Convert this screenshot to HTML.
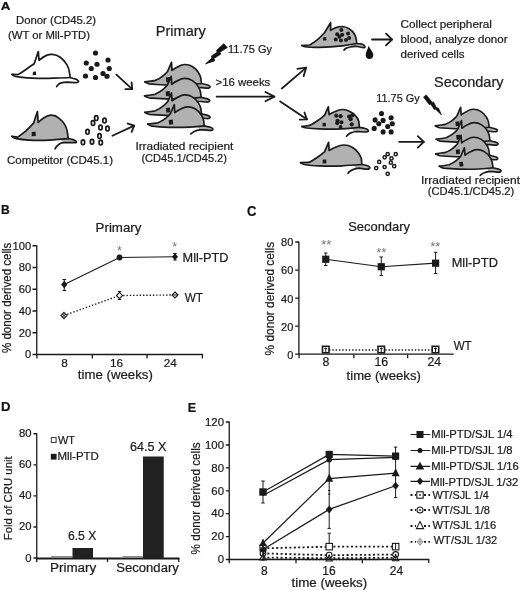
<!DOCTYPE html>
<html>
<head>
<meta charset="utf-8">
<title>Figure</title>
<style>
html,body{margin:0;padding:0;background:#fff;}
body{width:520px;height:590px;overflow:hidden;font-family:"Liberation Sans",sans-serif;}
svg{display:block;filter:grayscale(1);}
text{font-family:"Liberation Sans",sans-serif;fill:#1c1c1c;stroke:#1c1c1c;stroke-width:0.22;}
.b{font-weight:bold;fill:#111;}
.ln{stroke:#1a1a1a;stroke-width:1.8;fill:none;stroke-linecap:round;stroke-linejoin:round;}
.mo{fill:none;stroke:#1a1a1a;stroke-width:1.7;stroke-linecap:round;stroke-linejoin:round;}
.ax{stroke:#1a1a1a;stroke-width:1.3;fill:none;}
.dl{stroke:#1a1a1a;stroke-width:1.2;fill:none;}
.dot{stroke:#1a1a1a;stroke-width:1.4;fill:none;stroke-dasharray:1.4 1.9;}
.dotk{stroke:#1a1a1a;stroke-width:1.8;fill:none;stroke-dasharray:2 2.4;}
.eb{stroke:#1a1a1a;stroke-width:1;fill:none;}
.mk{fill:#1a1a1a;stroke:none;}
.om{fill:#fff;stroke:#1a1a1a;stroke-width:1.1;}
.on{fill:none;stroke:#1a1a1a;stroke-width:1.1;}
.st{fill:#777;stroke:none;}
</style>
</head>
<body>
<svg width="520" height="590" viewBox="0 0 520 590">
<defs>
  <marker id="ah" markerUnits="userSpaceOnUse" markerWidth="24" markerHeight="24" refX="0" refY="0" orient="auto" viewBox="-12 -12 24 24" overflow="visible">
    <path d="M-7.5,-4.8 L0,0 L-7.5,4.8" fill="none" stroke="#1a1a1a" stroke-width="1.8" stroke-linecap="round" stroke-linejoin="round"/>
  </marker>
  <marker id="ah3" markerUnits="userSpaceOnUse" markerWidth="24" markerHeight="24" refX="0" refY="0" orient="auto" viewBox="-12 -12 24 24" overflow="visible">
    <path d="M-6,-5.8 L0,0 L-6,5.8" fill="none" stroke="#1a1a1a" stroke-width="1.8" stroke-linecap="round" stroke-linejoin="round"/>
  </marker>
  <marker id="ah4" markerUnits="userSpaceOnUse" markerWidth="24" markerHeight="24" refX="0" refY="0" orient="auto" viewBox="-12 -12 24 24" overflow="visible">
    <path d="M-9,-4.6 L0,0 L-9,4.6" fill="none" stroke="#1a1a1a" stroke-width="1.8" stroke-linecap="round" stroke-linejoin="round"/>
  </marker>
  <marker id="ah5" markerUnits="userSpaceOnUse" markerWidth="24" markerHeight="24" refX="0" refY="0" orient="auto" viewBox="-12 -12 24 24" overflow="visible">
    <path d="M-5.8,-4.3 L0,0 L-5.8,4.3" fill="none" stroke="#1a1a1a" stroke-width="1.8" stroke-linecap="round" stroke-linejoin="round"/>
  </marker>
  <marker id="ah2" markerUnits="userSpaceOnUse" markerWidth="24" markerHeight="24" refX="0" refY="0" orient="auto" viewBox="-12 -12 24 24" overflow="visible">
    <path d="M-5,-4.6 L0,0 L-5,4.6" fill="none" stroke="#1a1a1a" stroke-width="1.8" stroke-linecap="round" stroke-linejoin="round"/>
  </marker>
  <!-- stacked mouse: nose at 0,0 facing left -->
  <g id="smouse">
    <path fill="#b0b1b4" d="M0,0 L6,-0.8 C8,-1 9.5,-1.2 10.5,-1.5 C13.5,-2.8 16,-4.3 18.2,-6.1 C20,-7.5 21.5,-9 22.8,-10.7 L26.6,-19.5 L27.1,-11.5 C29,-13 31.3,-14.4 33.6,-15.4 C35.5,-16.5 37.6,-17.3 39.7,-17.4 C42.5,-17.5 45.2,-16.8 47.4,-15.4 C50,-13.8 52.2,-11.7 53.6,-9.2 C54.7,-7.5 55.5,-5.7 55.9,-3.8 L56.6,1.6 C58.7,2 60.8,2.5 62.8,3.1 C64,3.5 64.9,4 65.1,4.6 C65.3,5.4 64.7,6 63.6,6.2 C62,6.4 59,5.9 56.6,5.7 L52,5.7 L50,2.4 C39,3.4 24,3.4 12,2.6 C9.4,2.5 6.8,2.4 4.3,2 C2.7,1.6 1.3,1 0,0 Z"/>
    <path class="mo" d="M0,0 L6,-0.8 C8,-1 9.5,-1.2 10.5,-1.5 C13.5,-2.8 16,-4.3 18.2,-6.1 C20,-7.5 21.5,-9 22.8,-10.7 L26.6,-19.5 L27.1,-11.5 C29,-13 31.3,-14.4 33.6,-15.4 C35.5,-16.5 37.6,-17.3 39.7,-17.4 C42.5,-17.5 45.2,-16.8 47.4,-15.4 C50,-13.8 52.2,-11.7 53.6,-9.2 C54.7,-7.5 55.5,-5.7 55.9,-3.8 L56.6,1.6 C58.7,2 60.8,2.5 62.8,3.1 C64,3.5 64.9,4 65.1,4.6 C65.3,5.4 64.7,6 63.6,6.2 C62,6.4 59,5.9 56.6,5.7 L52,5.7 C50,5.9 48.3,6.5 46.5,7.3 C45.3,8 44.2,8.8 43.2,9.7"/>
    <path class="mo" d="M0,0 C1.3,1 2.7,1.6 4.3,2 C6.8,2.4 9.4,2.5 12,2.6 C18,3 24,3.2 30,3.2 C39,3.2 48,2.5 56.6,1.6"/>
    <path fill="#1a1a1a" d="M21,-4.3 L25,-4.8 L25.5,0 L21.5,0.5 Z"/>
  </g>
</defs>
<rect width="520" height="590" fill="#fff"/>

<!-- ================= PANEL A ================= -->
<g id="panelA">
<text class="b" x="0.8" y="10" font-size="10.8" textLength="9.7" lengthAdjust="spacingAndGlyphs">A</text>
<text x="16" y="23.9" font-size="10.8" textLength="80" lengthAdjust="spacingAndGlyphs">Donor (CD45.2)</text>
<text x="8" y="38.5" font-size="10.8" textLength="82" lengthAdjust="spacingAndGlyphs">(WT or Mll-PTD)</text>
<text x="7" y="163.5" font-size="10.8" textLength="106" lengthAdjust="spacingAndGlyphs">Competitor (CD45.1)</text>
<text x="155.7" y="35.6" font-size="14.6" textLength="50.2" lengthAdjust="spacingAndGlyphs">Primary</text>
<text x="228" y="53" font-size="11.3" textLength="44" lengthAdjust="spacingAndGlyphs">11.75 Gy</text>
<text x="215.5" y="85.5" font-size="11.3" textLength="54.8" lengthAdjust="spacingAndGlyphs">&gt;16 weeks</text>
<text x="135.4" y="149.5" font-size="10.8" textLength="98" lengthAdjust="spacingAndGlyphs">Irradiated recipient</text>
<text x="141.4" y="161.8" font-size="10.8" textLength="85.6" lengthAdjust="spacingAndGlyphs">(CD45.1/CD45.2)</text>
<text x="400.5" y="28" font-size="10.8" textLength="91.5" lengthAdjust="spacingAndGlyphs">Collect peripheral</text>
<text x="400.5" y="42.5" font-size="10.8" textLength="107" lengthAdjust="spacingAndGlyphs">blood, analyze donor</text>
<text x="400.5" y="57.5" font-size="10.8" textLength="64" lengthAdjust="spacingAndGlyphs">derived cells</text>
<text x="434" y="87.3" font-size="14.6" textLength="69.5" lengthAdjust="spacingAndGlyphs">Secondary</text>
<text x="376.3" y="101.9" font-size="11.2" textLength="43.3" lengthAdjust="spacingAndGlyphs">11.75 Gy</text>
<text x="421" y="184" font-size="10.8" textLength="99" lengthAdjust="spacingAndGlyphs">Irradiated recipient</text>
<text x="427.8" y="194.8" font-size="10.8" textLength="86.5" lengthAdjust="spacingAndGlyphs">(CD45.1/CD45.2)</text>

<!-- donor mouse (white) -->
<g>
<path class="mo" d="M12,74.4 L18.2,74.6 C22,72.5 26,69.5 30,66.5 L34.2,63.7 L38.3,51.6 L39,60.2 C41.5,58.3 44,56.5 46.6,55.4 C48.5,54.6 50.5,54.3 52.2,54.4 C55.5,54.6 58.3,55.8 60.5,57.5 C63.2,59.5 65.3,62 66.7,64.4 C68.2,67 69.2,70 69.5,72.7 L70.2,77.5 C72,78 73.5,78.4 75,78.9 C76.2,79.3 77.2,79.7 77.8,80.3 C78.6,81 78.8,81.7 78.2,82.1 C77.5,82.6 76.2,82.7 75,82.7 L67.4,82.1 C65,82.1 62.5,82.4 60.5,83.1 C59.2,83.6 58.3,84.4 57.7,85.2 L56.6,86.5"/>
<path class="mo" d="M12,74.4 C13,75.3 13.8,75.8 14.8,76.2 C16.5,76.7 18.3,76.9 20.3,77.1 C24.5,77.6 28.5,78 32.8,78.2 C39.5,78.5 46.5,78.5 53.5,78.2 C59,78 64.7,77.8 70.2,77.5"/>
<path fill="#1a1a1a" d="M33,71.8 L36,71.4 L36.2,75 L32.6,75.2 Z"/>
</g>
<!-- competitor mouse (gray) -->
<g>
<path fill="#b0b1b4" d="M11.9,136.4 L17.7,137.1 C20.5,135.2 23.3,133 26,130.8 C28.6,128.4 31.2,125.8 33.6,123.2 L37.4,111.5 L38.2,122.5 C40,120.7 42,119 44,117.7 C46.2,116.3 48.6,115.3 50.9,115.2 C54,115 56.9,116.4 59.2,118.4 C61.5,120.2 63.4,122.3 64.8,124.6 C66.3,127.1 67.1,130 67.5,132.9 L68.2,138.7 C70,138.9 71.6,139.2 73.1,139.6 C74.3,140 75.5,140.5 76.1,141.2 C76.7,141.9 76.4,142.4 75.6,142.6 C74.5,142.8 73,142.6 71.7,142.6 L63.4,142.6 L60,139.6 C49.5,140.5 35.6,140.4 28.8,140.1 C24.5,139.9 20.3,139.5 16.3,138.7 C14.6,138.3 13.2,137.6 11.9,136.4 Z"/>
<path class="mo" d="M11.9,136.4 L17.7,137.1 C20.5,135.2 23.3,133 26,130.8 C28.6,128.4 31.2,125.8 33.6,123.2 L37.4,111.5 L38.2,122.5 C40,120.7 42,119 44,117.7 C46.2,116.3 48.6,115.3 50.9,115.2 C54,115 56.9,116.4 59.2,118.4 C61.5,120.2 63.4,122.3 64.8,124.6 C66.3,127.1 67.1,130 67.5,132.9 L68.2,138.7 C70,138.9 71.6,139.2 73.1,139.6 C74.3,140 75.5,140.5 76.1,141.2 C76.7,141.9 76.4,142.4 75.6,142.6 C74.5,142.8 73,142.6 71.7,142.6 L63.4,142.6 C61.6,142.8 59.8,143.6 58.5,144.7 C57.3,145.6 56.4,146.5 55.8,147.5 L55.1,148.8"/>
<path class="mo" d="M11.9,136.4 C13.2,137.6 14.6,138.3 16.3,138.7 C20.3,139.5 24.5,139.9 28.8,140.1 C35.6,140.4 42.5,140.4 49.5,140.1 C55.7,139.8 62,139.3 68.2,138.7"/>
<path fill="#1a1a1a" d="M31.8,132 L35.6,131.8 L35.8,136 L31.6,136.2 Z"/>
</g>

<!-- donor cells -->
<g class="mk">
<circle cx="95.5" cy="53.00" r="2.6"/><circle cx="86.25" cy="63.00" r="2.6"/><circle cx="97" cy="64.25" r="2.6"/><circle cx="108" cy="60.00" r="2.6"/><circle cx="91.25" cy="68.50" r="2.6"/><circle cx="109.25" cy="68.50" r="2.6"/><circle cx="85.5" cy="76.00" r="2.6"/><circle cx="95.5" cy="77.50" r="2.6"/><circle cx="103" cy="73.50" r="2.6"/><circle cx="107" cy="76.25" r="2.6"/>
</g>
<!-- competitor cells -->
<g fill="#fff" stroke="#1a1a1a" stroke-width="1.7">
<ellipse cx="96.25" cy="118.10" rx="1.7" ry="2.4"/><ellipse cx="93" cy="123.10" rx="1.7" ry="2.4"/><ellipse cx="104.5" cy="120.60" rx="1.7" ry="2.4"/><ellipse cx="100.5" cy="127.60" rx="1.7" ry="2.4"/><ellipse cx="107.5" cy="128.60" rx="1.7" ry="2.4"/><ellipse cx="87.5" cy="131.85" rx="1.7" ry="2.4"/><ellipse cx="99.5" cy="136.10" rx="1.7" ry="2.4"/><ellipse cx="83" cy="142.35" rx="1.7" ry="2.4"/><ellipse cx="92" cy="141.85" rx="1.7" ry="2.4"/><ellipse cx="100.75" cy="142.60" rx="1.7" ry="2.4"/>
</g>
<!-- arrows -->
<path class="ln" d="M116.4,74.7 L132.2,89.1" marker-end="url(#ah2)"/>
<path class="ln" d="M112.4,135.7 L134.2,125.6" marker-end="url(#ah2)"/>
<path class="ln" d="M216.6,96.6 L274.4,96.6" marker-end="url(#ah4)"/>
<path class="ln" d="M281.8,88.5 L306.2,67.6" marker-end="url(#ah)"/>
<path class="ln" d="M280.2,101.4 L306.9,119.3" marker-end="url(#ah5)"/>
<path class="ln" d="M372,39.5 L392,39.5" marker-end="url(#ah3)"/>
<path class="ln" d="M399.2,141.9 L423.8,141.9" marker-end="url(#ah3)"/>

<!-- lightning bolts -->
<path fill="#111" stroke="#111" stroke-width="0.9" stroke-linejoin="round" d="M223.8,43.8 L227.2,47.5 L219.8,52.3 L220.8,54 L213.75,58.6 L214.7,60.8 L205.6,63.8 L212.1,58.1 L211.5,56 L217.3,52.3 L216.6,50.4 Z"/>
<path fill="#111" stroke="#111" stroke-width="0.7" stroke-linejoin="round" d="M423.5,97.1 L426.3,94.9 L432.3,102.4 L433.6,101.9 L436.4,107.7 L438.4,108 L441.5,114.9 L435.5,109.2 L434.5,109.6 L430.7,104.3 L429.2,104.5 Z"/>

<!-- primary recipients stack -->
<use href="#smouse" transform="translate(144.9,81.9)"/>
<use href="#smouse" transform="translate(144.6,95.8)"/>
<use href="#smouse" transform="translate(144.9,112.3)"/>
<use href="#smouse" transform="translate(147.7,124.2)"/>

<!-- top right mouse with cells -->
<g>
<path fill="#b0b1b4" d="M301.8,45.5 L309.8,45 C312.5,43.4 315,41.6 317.5,39.6 C320,37.4 322.3,35.1 324.5,32.7 L330.6,22.7 L330.6,30.4 C332.3,29.2 334.1,28.2 336,27.6 C338,26.9 340.1,26.5 342.2,26.5 C344.7,26.6 347,27.4 349.1,28.8 C351.3,30.2 353.2,32 354.5,34.2 C355.5,35.9 356,37.7 356.3,39.6 L356.8,43.5 C358.6,43.6 360.5,43.8 362.2,44.2 C363.6,44.6 364.7,45.5 364.9,46.5 C365,47.2 364.5,47.6 363.7,47.6 C361.7,47.5 359.6,46.8 357.5,46.5 L352,46.6 L350,44.7 C340,46.2 326.8,47.1 319.1,47.3 C315,47.4 310.9,47.4 306.8,47 C305,46.8 303.3,46.4 301.8,45.5 Z"/>
<path class="mo" d="M301.8,45.5 L309.8,45 C312.5,43.4 315,41.6 317.5,39.6 C320,37.4 322.3,35.1 324.5,32.7 L330.6,22.7 L330.6,30.4 C332.3,29.2 334.1,28.2 336,27.6 C338,26.9 340.1,26.5 342.2,26.5 C344.7,26.6 347,27.4 349.1,28.8 C351.3,30.2 353.2,32 354.5,34.2 C355.5,35.9 356,37.7 356.3,39.6 L356.8,43.5 C358.6,43.6 360.5,43.8 362.2,44.2 C363.6,44.6 364.7,45.5 364.9,46.5 C365,47.2 364.5,47.6 363.7,47.6 C361.7,47.5 359.6,46.8 357.5,46.5 C355,46.3 352.3,46.5 349.8,47 C348,47.3 346.4,47.9 345.2,48.8 L344,50.1"/>
<path class="mo" d="M301.8,45.5 C303.3,46.4 305,46.8 306.8,47 C310.9,47.4 315,47.4 319.1,47.3 C326.8,47.1 334.5,46.6 342.2,45.8 C347.1,45.2 352,44.4 356.8,43.5"/>
<path fill="#1a1a1a" d="M323.2,37.2 L326.2,37 L326.4,40.4 L323,40.6 Z"/>
</g>
<g class="mk">
<circle cx="341.4" cy="30.1" r="2"/><circle cx="337.2" cy="34.2" r="2"/><circle cx="342.2" cy="34.7" r="2"/><circle cx="348" cy="33.5" r="2"/><circle cx="339.4" cy="36.8" r="2"/><circle cx="335.7" cy="39.6" r="2"/><circle cx="340.9" cy="40.4" r="2"/><circle cx="346" cy="39.9" r="2"/><circle cx="349.1" cy="38.1" r="2"/>
</g>
<!-- blood drop -->
<path fill="#111" d="M368.6,45.8 C370,49.5 373.3,52 373.3,55 C373.3,57.4 371.6,59 369.5,59 C367.3,59 365.7,57.4 365.7,55 C365.7,52 368,49.5 368.6,45.8 Z"/>

<!-- middle right mouse with cells -->
<g>
<path fill="#b0b1b4" d="M301.8,126.5 L309.8,125.4 C312.5,124.1 315,122.6 317.5,120.8 C320,119.1 322.3,117.3 324.5,115.4 L328.3,106.9 L329.1,114.6 C331,113.3 333.1,112.3 335.2,111.5 C337.5,110.5 339.9,109.6 342.2,109.5 C344.8,109.4 347.5,110.2 349.8,111.5 C352.3,112.6 354.5,114.2 356,116.2 C357.3,117.8 358.3,119.6 358.8,121.5 L359.4,127.4 C361.4,127.6 363.4,127.9 365.2,128.5 C366.6,128.9 368,129.6 368.3,130.5 C368.6,131.4 367.4,131.9 366,132 C363.3,132.1 360.3,131.6 357.5,131.5 L354,131.6 L352,128.4 C341,129.2 326,129.2 319.1,128.9 C315,128.8 310.9,128.6 306.8,128 C305,127.8 303.3,127.4 301.8,126.5 Z"/>
<path class="mo" d="M301.8,126.5 L309.8,125.4 C312.5,124.1 315,122.6 317.5,120.8 C320,119.1 322.3,117.3 324.5,115.4 L328.3,106.9 L329.1,114.6 C331,113.3 333.1,112.3 335.2,111.5 C337.5,110.5 339.9,109.6 342.2,109.5 C344.8,109.4 347.5,110.2 349.8,111.5 C352.3,112.6 354.5,114.2 356,116.2 C357.3,117.8 358.3,119.6 358.8,121.5 L359.4,127.4 C361.4,127.6 363.4,127.9 365.2,128.5 C366.6,128.9 368,129.6 368.3,130.5 C368.6,131.4 367.4,131.9 366,132 C363.3,132.1 360.3,131.6 357.5,131.5 C355.4,131.6 353.3,131.9 351.4,132.6 C349.8,133.2 348.5,134 347.5,135.1 L346.5,136.2"/>
<path class="mo" d="M301.8,126.5 C303.3,127.4 305,127.8 306.8,128 C310.9,128.6 315,128.8 319.1,128.9 C326.8,129.2 334.5,129.2 342.2,128.9 C348,128.6 353.7,128 359.4,127.4"/>
<path fill="#1a1a1a" d="M322.6,123 L325.8,122.8 L326,126.2 L322.4,126.4 Z"/>
</g>
<g class="mk">
<circle cx="336.3" cy="115.7" r="2.1"/><circle cx="340.6" cy="116.2" r="2.1"/><circle cx="349.1" cy="116.6" r="2.1"/><circle cx="352.2" cy="115.4" r="2.1"/><circle cx="337.5" cy="120.8" r="2.1"/><circle cx="337.2" cy="123.1" r="2.1"/><circle cx="341.4" cy="122.3" r="2.1"/><circle cx="350.6" cy="119.2" r="2.1"/><circle cx="351.7" cy="124.3" r="2.1"/><circle cx="340.6" cy="127" r="1.9"/>
</g>
<g class="mk">
<circle cx="381.5" cy="113.5" r="2.55"/><circle cx="375.1" cy="119.9" r="2.55"/><circle cx="383.1" cy="120.4" r="2.55"/><circle cx="391.1" cy="117.8" r="2.55"/><circle cx="378.8" cy="123.8" r="2.55"/><circle cx="392.3" cy="123.8" r="2.55"/><circle cx="387.7" cy="126.5" r="2.55"/><circle cx="374.2" cy="128.4" r="2.55"/><circle cx="383.1" cy="131.9" r="2.55"/><circle cx="391.1" cy="131.9" r="2.55"/>
</g>
<!-- bottom right mouse -->
<g>
<path fill="#b0b1b4" d="M300.6,162.7 L309.1,162.4 C312,160.9 314.8,159.2 317.5,157.3 C320,155.6 322.3,153.8 324.5,151.9 L328.6,142.4 L329.1,150.4 C331.3,149.1 333.6,147.9 336,147 C338.5,146 341.1,145.1 343.7,145 C346.7,144.9 349.6,145.8 352.2,147.3 C354.6,148.7 356.8,150.5 358.3,152.7 C359.7,154.6 360.8,156.6 361.4,158.8 L361.8,164.5 C363.8,164.8 365.7,165.2 367.5,165.8 C368.6,166.2 369.6,166.8 369.8,167.6 C370,168.5 368.8,169.1 367.5,169.2 C364.7,169.3 361.9,168.3 359.1,168.1 L356,168.2 L354,165.4 C341,166.2 326,166.1 319.1,165.8 C315,165.7 310.9,165.6 306.8,165 C304.6,164.7 302.5,164 300.6,162.7 Z"/>
<path class="mo" d="M300.6,162.7 L309.1,162.4 C312,160.9 314.8,159.2 317.5,157.3 C320,155.6 322.3,153.8 324.5,151.9 L328.6,142.4 L329.1,150.4 C331.3,149.1 333.6,147.9 336,147 C338.5,146 341.1,145.1 343.7,145 C346.7,144.9 349.6,145.8 352.2,147.3 C354.6,148.7 356.8,150.5 358.3,152.7 C359.7,154.6 360.8,156.6 361.4,158.8 L361.8,164.5 C363.8,164.8 365.7,165.2 367.5,165.8 C368.6,166.2 369.6,166.8 369.8,167.6 C370,168.5 368.8,169.1 367.5,169.2 C364.7,169.3 361.9,168.3 359.1,168.1 C357,168.2 354.8,168.7 352.9,169.6 C351.4,170.2 350.1,171 349.1,171.9 L348,173.2"/>
<path class="mo" d="M300.6,162.7 C302.5,164 304.6,164.7 306.8,165 C310.9,165.6 315,165.7 319.1,165.8 C326.8,166.1 334.5,166.1 342.2,165.8 C348.8,165.5 355.3,165 361.8,164.5"/>
<path fill="#1a1a1a" d="M322.8,159.6 L326.2,159.4 L326.4,163.2 L322.6,163.4 Z"/>
</g>
<g fill="#fff" stroke="#1a1a1a" stroke-width="1.5">
<circle cx="387.7" cy="154.2" r="1.6"/><circle cx="395.7" cy="154.2" r="1.6"/><circle cx="384.6" cy="157.3" r="1.6"/><circle cx="391.5" cy="158.4" r="1.6"/><circle cx="379.2" cy="161.9" r="1.6"/><circle cx="390.8" cy="162.7" r="1.6"/><circle cx="394.2" cy="166.2" r="1.6"/><circle cx="376.2" cy="168.1" r="1.6"/><circle cx="384.6" cy="167.0" r="1.6"/><circle cx="387.7" cy="173.8" r="1.6"/>
</g>

<!-- secondary recipients stack -->
<use href="#smouse" transform="translate(435.4,125.8) scale(0.95)"/>
<use href="#smouse" transform="translate(436.2,139.2) scale(0.95)"/>
<use href="#smouse" transform="translate(435.8,153.8) scale(0.95)"/>
<use href="#smouse" transform="translate(439.2,166.2) scale(0.95)"/>
</g>

<!-- ================= PANEL B ================= -->
<g id="panelB">
<text class="b" x="0.9" y="214" font-size="13" textLength="8.7" lengthAdjust="spacingAndGlyphs">B</text>
<text x="95.6" y="231.5" font-size="12.6" textLength="45.8" lengthAdjust="spacingAndGlyphs">Primary</text>
<path class="ax" d="M36.75,245.2 V354.5 H203"/>
<path class="ax" d="M32.5,245.75 H36.75 M32.5,267.5 H36.75 M32.5,289.25 H36.75 M32.5,311 H36.75 M32.5,332.75 H36.75 M32.5,354.5 H36.75 M36.9,354.5 V358.5 M92.3,354.5 V358.5 M147,354.5 V358.5 M202.4,354.5 V358.5"/>
<g font-size="11.2" text-anchor="end">
<text x="31.2" y="249.6">100</text><text x="31.2" y="271.3">80</text><text x="31.2" y="293.1">60</text><text x="31.2" y="314.8">40</text><text x="31.2" y="336.6">20</text><text x="31.2" y="358.3">0</text>
</g>
<g font-size="11.8" text-anchor="middle">
<text x="64.6" y="366.8">8</text><text x="116.5" y="366.8">16</text><text x="170.2" y="366.8">24</text>
</g>
<text x="77.8" y="379.3" font-size="12" textLength="75" lengthAdjust="spacingAndGlyphs">time (weeks)</text>
<text transform="translate(11.2,353.1) rotate(-90)" font-size="12.3" textLength="110.5" lengthAdjust="spacingAndGlyphs">% donor derived cells</text>
<!-- Mll-PTD -->
<path class="dl" d="M64.25,284.5 L119.5,257.5 L175,256.75"/>
<path class="eb" d="M64.25,279.5 V290.5 M62.5,279.5 H66 M62.5,290.5 H66 M175,253.5 V260 M173.3,253.5 H176.7 M173.3,260 H176.7"/>
<path class="mk" d="M64.25,280.7 L67.4,284.5 L64.25,288.3 L61.1,284.5 Z"/>
<circle class="mk" cx="119.5" cy="257.5" r="2.9"/>
<path class="mk" d="M175,253.2 L178,256.75 L175,260.3 L172,256.75 Z"/>
<text class="st" x="119.5" y="254.6" font-size="12.5" text-anchor="middle">*</text>
<text class="st" x="174.6" y="251.3" font-size="12.5" text-anchor="middle">*</text>
<text x="182.6" y="261.5" font-size="12.7" textLength="45.9" lengthAdjust="spacingAndGlyphs">Mll-PTD</text>
<!-- WT -->
<path class="dot" d="M64,315.5 L119.5,295.5 L175,295"/>
<path class="eb" d="M119.5,291.5 V299.5 M117.8,291.5 H121.2 M117.8,299.5 H121.2"/>
<path class="om" d="M64,312.3 L67,315.5 L64,318.7 L61,315.5 Z"/>
<path class="eb" d="M62.4,313.9 L65.6,317.1 M62.4,317.1 L65.6,313.9" stroke-width="0.8"/>
<path class="om" d="M119.5,292.3 L122.5,295.5 L119.5,298.7 L116.5,295.5 Z"/>
<path class="om" d="M175,292 L178,295 L175,298 L172,295 Z"/>
<path class="eb" d="M172,295 H178"/>
<text x="184.7" y="302.4" font-size="12.7" textLength="18.3" lengthAdjust="spacingAndGlyphs">WT</text>
</g>

<!-- ================= PANEL C ================= -->
<g id="panelC">
<text class="b" x="247.1" y="215.7" font-size="13.8" textLength="9.4" lengthAdjust="spacingAndGlyphs">C</text>
<text x="348.2" y="230.9" font-size="12.6" textLength="61.8" lengthAdjust="spacingAndGlyphs">Secondary</text>
<path class="ax" d="M298.9,241.4 V354.2 H453.7"/>
<path class="ax" d="M295.2,242 H298.9 M295.2,270.05 H298.9 M295.2,298.1 H298.9 M295.2,326.15 H298.9 M295.2,354.2 H298.9 M299.1,354.2 V358.2 M353.9,354.2 V358.2 M407.6,354.2 V358.2"/>
<g font-size="11" text-anchor="end">
<text x="293.3" y="246.4">80</text><text x="293.3" y="274.4">60</text><text x="293.3" y="302.5">40</text><text x="293.3" y="330.5">20</text><text x="293.3" y="358.6">0</text>
</g>
<g font-size="12.3" text-anchor="middle">
<text x="325.8" y="365.6">8</text><text x="381.3" y="365.6">16</text><text x="434.3" y="365.6">24</text>
</g>
<text x="346.6" y="379.6" font-size="12" textLength="74.2" lengthAdjust="spacingAndGlyphs">time (weeks)</text>
<text transform="translate(273.7,355.4) rotate(-90)" font-size="12.3" textLength="113.5" lengthAdjust="spacingAndGlyphs">% donor derived cells</text>
<!-- Mll-PTD -->
<path class="dl" d="M325.75,259.25 L381.25,266.75 L435.6,263.2"/>
<path class="eb" d="M325.75,253 V265.5 M324,253 H327.5 M324,265.5 H327.5 M381.25,257 V275.5 M379.5,257 H383 M379.5,275.5 H383 M435.6,252.3 V273.5 M433.8,252.3 H437.4 M433.8,273.5 H437.4"/>
<rect class="mk" x="322.15" y="255.65" width="7.2" height="7.2"/>
<rect class="mk" x="377.65" y="263.15" width="7.2" height="7.2"/>
<rect class="mk" x="432" y="259.6" width="7.2" height="7.2"/>
<text class="st" x="326.25" y="248.8" font-size="13" text-anchor="middle">**</text>
<text class="st" x="381.2" y="256.6" font-size="13" text-anchor="middle">**</text>
<text class="st" x="435.3" y="251.2" font-size="13" text-anchor="middle">**</text>
<text x="451.7" y="266.7" font-size="13" textLength="46.2" lengthAdjust="spacingAndGlyphs">Mll-PTD</text>
<!-- WT -->
<path class="dot" d="M325.75,350 H435.5"/>
<rect class="om" x="322.5" y="346.3" width="6.5" height="6.5" style="stroke-width:1.6"/>
<rect class="om" x="378" y="346.3" width="6.5" height="6.5" style="stroke-width:1.6"/>
<rect class="om" x="432.2" y="346.3" width="6.5" height="6.5" style="stroke-width:1.6"/>
<path class="eb" d="M325.75,347.5 V352 M381.25,347.5 V352 M435.5,347.5 V352 M324.3,348.6 H327.2 M379.8,348.6 H382.7 M434,348.6 H437" stroke-width="1"/>
<text x="453.7" y="349.6" font-size="12.7" textLength="18" lengthAdjust="spacingAndGlyphs">WT</text>
</g>
<!-- ================= PANEL D ================= -->
<g id="panelD">
<text class="b" x="0.9" y="411.2" font-size="13.3" textLength="9.5" lengthAdjust="spacingAndGlyphs">D</text>
<path class="ax" d="M36.75,433.2 V558"/>
<path class="ax" d="M33.5,433.75 H36.75 M33.5,464.8 H36.75 M33.5,495.9 H36.75 M33.5,527 H36.75 M33.5,558 H36.75"/>
<path d="M36.2,558.5 H179.3" stroke="#1a1a1a" stroke-width="1.8" fill="none"/>
<path class="ax" d="M36.75,558 V562 M107.5,558 V562 M178.75,558 V562"/>
<g font-size="11.3" text-anchor="end">
<text x="31.6" y="436.8">80</text><text x="31.6" y="467.8">60</text><text x="31.6" y="498.9">40</text><text x="31.6" y="530">20</text><text x="31.6" y="561.6">0</text>
</g>
<rect x="51.25" y="556" width="21.25" height="2" fill="#8a8a8a"/>
<rect x="72.5" y="548" width="20.5" height="10" fill="#222"/>
<rect x="122.5" y="556" width="20.5" height="2" fill="#8a8a8a"/>
<rect x="143" y="456.5" width="20.75" height="101.5" fill="#222"/>
<text x="68" y="540" font-size="12" textLength="28.3" lengthAdjust="spacingAndGlyphs">6.5 X</text>
<text x="130" y="450.5" font-size="12" textLength="36.3" lengthAdjust="spacingAndGlyphs">64.5 X</text>
<text x="50" y="572" font-size="12" textLength="46.3" lengthAdjust="spacingAndGlyphs">Primary</text>
<text x="116.3" y="572" font-size="12" textLength="62.5" lengthAdjust="spacingAndGlyphs">Secondary</text>
<rect x="51.3" y="437.6" width="4.8" height="4.8" fill="#fff" stroke="#333" stroke-width="1"/>
<rect x="50.8" y="453.8" width="5.8" height="5.8" fill="#1a1a1a"/>
<text x="58" y="443.8" font-size="10.7" textLength="17" lengthAdjust="spacingAndGlyphs">WT</text>
<text x="57.5" y="459.5" font-size="10.7" textLength="41.3" lengthAdjust="spacingAndGlyphs">Mll-PTD</text>
<text transform="translate(12,540.3) rotate(-90)" font-size="11.4" textLength="84" lengthAdjust="spacingAndGlyphs">Fold of CRU unit</text>
</g>

<!-- ================= PANEL E ================= -->
<g id="panelE">
<text class="b" x="187.8" y="411.6" font-size="13.2" textLength="8.4" lengthAdjust="spacingAndGlyphs">E</text>
<path class="ax" d="M229.25,421.5 V559.5 H428.75 V563"/>
<path class="ax" d="M225.8,422 H229.25 M225.8,445 H229.25 M225.8,467.9 H229.25 M225.8,490.8 H229.25 M225.8,513.7 H229.25 M225.8,536.6 H229.25 M225.8,559.5 H229.25 M229.25,559.5 V563.3 M296,559.5 V563.3 M362.3,559.5 V563.3"/>
<g font-size="11.4" text-anchor="end">
<text x="224" y="425.7">120</text><text x="224" y="448.7">100</text><text x="224" y="471.6">80</text><text x="224" y="494.5">60</text><text x="224" y="517.4">40</text><text x="224" y="540.3">20</text><text x="224" y="563.2">0</text>
</g>
<g font-size="12" text-anchor="middle">
<text x="264.3" y="575.2">8</text><text x="329" y="575.2">16</text><text x="396.5" y="575.2">24</text>
</g>
<text x="291.6" y="586.6" font-size="12" textLength="75.6" lengthAdjust="spacingAndGlyphs">time (weeks)</text>
<text transform="translate(200.2,554.4) rotate(-90)" font-size="12.3" textLength="112" lengthAdjust="spacingAndGlyphs">% donor derived cells</text>
<!-- WT dotted series -->
<path class="dotk" d="M263,548.3 L329.2,546.7 L395.6,546.7"/>
<path class="dotk" d="M263,553.4 L329.2,555.2 L395.6,554.5"/>
<path class="dotk" d="M263,557.6 L329.2,558.2 L395.6,557.8"/>
<path class="dot" d="M263,559.3 L329.2,559.5 L395.6,559.4"/>
<path class="eb" d="M329.2,533.2 V543.4 M327.5,533.2 H330.9 M395.6,543.5 V550"/>
<!-- Mll solid series -->
<path class="dl" d="M263,492 L329.2,454.4 L395.6,456.1"/>
<path class="dl" d="M263,495.5 L329.2,459.6 L395.6,457.3"/>
<path class="dl" d="M263,543 L329.2,478.6 L395.6,473.2"/>
<path class="dl" d="M263,549.5 L329.2,509.4 L395.6,485.7"/>
<path class="eb" d="M263,481 V503 M261.3,481 H264.7 M261.3,503 H264.7 M329.2,454.4 V528.4 M327.5,528.4 H330.9 M328,490.5 H330.4 M328,494 H330.4 M395.6,447.1 V497.6 M393.9,447.1 H397.3 M393.9,497.6 H397.3 M263,539 V561"/>
<!-- markers 8wk -->
<rect class="mk" x="259.3" y="488.3" width="7.4" height="7.4"/>
<path class="mk" d="M263,539 L266.8,546 L259.2,546 Z"/>
<path class="mk" d="M263,545.5 L266.3,549.5 L263,553.5 L259.7,549.5 Z"/>
<rect class="on" x="260" y="545" width="6" height="6"/>
<circle class="on" cx="263" cy="553.4" r="2.8"/>
<path class="on" d="M263,554 L266.3,560 L259.7,560 Z"/>
<!-- markers 16wk -->
<rect class="mk" x="325.6" y="450.8" width="7.2" height="7.2"/>
<circle class="mk" cx="329.2" cy="459.8" r="2.7"/>
<path class="mk" d="M329.2,473.6 L333.2,481.7 L325.2,481.7 Z"/>
<path class="mk" d="M329.2,505.4 L332.5,509.4 L329.2,513.4 L325.9,509.4 Z"/>
<rect class="om" x="326" y="543.4" width="6.5" height="6.5"/>
<circle class="om" cx="329.2" cy="555.2" r="2.9"/>
<circle class="mk" cx="329.2" cy="555.2" r="0.8"/>
<path class="on" d="M329.2,555.3 L332.3,561 L326.1,561 Z"/>
<!-- markers 24wk -->
<rect class="mk" x="392" y="452.5" width="7.2" height="7.2"/>
<circle class="mk" cx="395.6" cy="457.5" r="2.5"/>
<path class="mk" d="M395.6,468.2 L399.6,476.3 L391.6,476.3 Z"/>
<path class="mk" d="M395.6,481.7 L398.9,485.7 L395.6,489.7 L392.3,485.7 Z"/>
<rect class="om" x="392.4" y="543.4" width="6.5" height="6.5"/>
<path class="eb" d="M395.6,544 V549.5"/>
<circle class="om" cx="395.6" cy="554.5" r="2.9"/>
<circle class="mk" cx="395.6" cy="554.5" r="0.8"/>
<path class="on" d="M395.6,555 L398.7,560.8 L392.5,560.8 Z"/>
<!-- legend -->
<path class="dl" d="M410.5,434.5 H430 M410.5,450.5 H430 M410.5,466.3 H430 M410.5,481.3 H430"/>
<rect class="mk" x="416.5" y="431" width="7" height="7"/>
<circle class="mk" cx="420" cy="450.5" r="2.5"/>
<path class="mk" d="M420,461.8 L424.3,469.6 L415.7,469.6 Z"/>
<path class="mk" d="M420,477.6 L423.3,481.3 L420,485 L416.7,481.3 Z"/>
<path class="dotk" d="M410.5,495 H416 M424,495 H430 M410.5,510 H416 M424,510 H430 M410.5,526 H416 M424,526 H430"/>
<path class="dotk" d="M410.5,541.8 H416 M424,541.8 H430" stroke-width="1.5"/>
<rect class="om" x="416.8" y="491.8" width="6.4" height="6.4"/>
<rect class="mk" x="419.2" y="494.2" width="1.6" height="1.6"/>
<circle class="om" cx="420" cy="510" r="3"/>
<circle class="mk" cx="420" cy="510" r="0.9"/>
<path class="om" d="M420,521.6 L423.6,528.6 L416.4,528.6 Z"/>
<path d="M420,538.4 L423,541.8 L420,545.2 L417,541.8 Z M417,541.8 H423 M420,538.4 V545.2" fill="#fff" stroke="#777" stroke-width="0.8"/>
<g font-size="10.7">
<text x="431.3" y="438.2" textLength="81.2" lengthAdjust="spacingAndGlyphs">Mll-PTD/SJL 1/4</text>
<text x="431.3" y="454.2" textLength="81.2" lengthAdjust="spacingAndGlyphs">Mll-PTD/SJL 1/8</text>
<text x="431.3" y="470" textLength="87.5" lengthAdjust="spacingAndGlyphs">Mll-PTD/SJL 1/16</text>
<text x="430.3" y="485.5" textLength="88" lengthAdjust="spacingAndGlyphs">Mll-PTD/SJL 1/32</text>
<text x="432.5" y="499" textLength="56.3" lengthAdjust="spacingAndGlyphs">WT/SJL 1/4</text>
<text x="432.5" y="513.7" textLength="57.5" lengthAdjust="spacingAndGlyphs">WT/SJL 1/8</text>
<text x="432.5" y="528.7" textLength="63.7" lengthAdjust="spacingAndGlyphs">WT/SJL 1/16</text>
<text x="433.7" y="544.2" textLength="63.5" lengthAdjust="spacingAndGlyphs">WT/SJL 1/32</text>
</g>
</g>

</svg>
</body>
</html>
